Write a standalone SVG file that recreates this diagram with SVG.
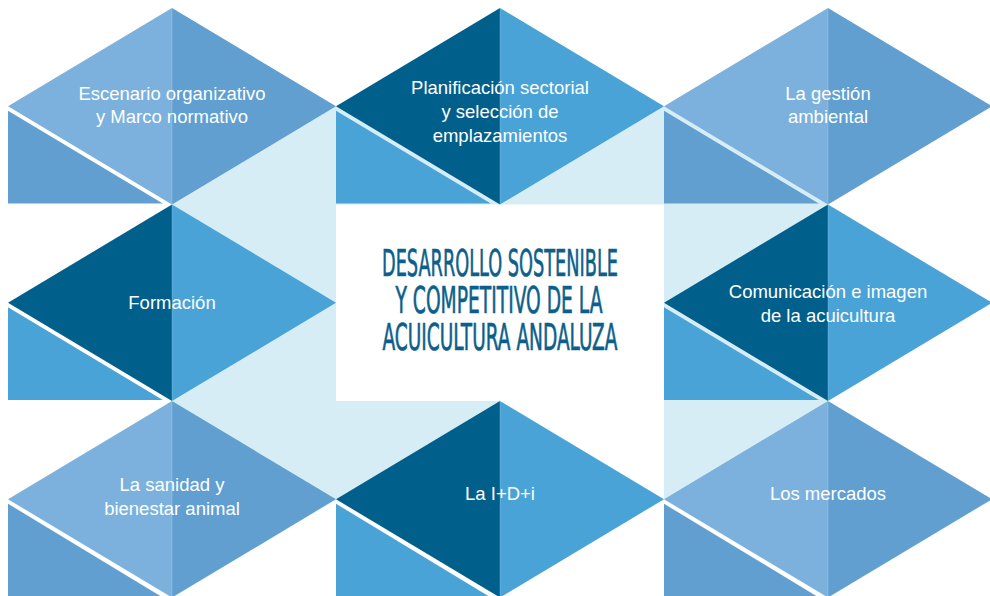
<svg xmlns="http://www.w3.org/2000/svg" width="990" height="596" viewBox="0 0 990 596">
<style>
.bg{fill:#ffffff}
.pale{fill:#d7edf6}
.a1{fill:#7bb1dc}
.a2{fill:#609fd0}
.b1{fill:#015f8b}
.b2{fill:#49a3d6}
.seam{stroke:#ffffff;stroke-opacity:0.25;stroke-width:0.8}
.lbl{font-family:"Liberation Sans",Arial,Helvetica,sans-serif;font-size:18.5px;fill:#ffffff;text-anchor:middle}
.title{font-family:"DejaVu Sans Condensed","DejaVu Sans","Liberation Sans",sans-serif;font-weight:normal;font-size:38px;fill:#0d5f8b;stroke:#0d5f8b;stroke-width:0.7;text-anchor:middle}
</style>
<rect class="bg" x="0" y="0" width="990" height="596"/>
<g id="background">
<rect class="pale" x="172" y="106.25" width="656" height="393"/>
<rect class="bg" x="500" y="401" width="164" height="98.25"/>
</g>
<g id="center">
<rect class="bg" x="336" y="204.5" width="328" height="196.5"/>
<text class="title" x="500" y="276" textLength="236" lengthAdjust="spacingAndGlyphs">DESARROLLO SOSTENIBLE</text>
<text class="title" x="499" y="313" textLength="207" lengthAdjust="spacingAndGlyphs">Y COMPETITIVO DE LA</text>
<text class="title" x="500" y="350" textLength="235" lengthAdjust="spacingAndGlyphs">ACUICULTURA ANDALUZA</text>
</g>
<g id="n-escenario">
<polygon class="a2" points="8,110.75 8,203.5 162.8,203.5"/>
<polygon class="a1" points="8,106.25 172,8 172,204.5"/>
<polygon class="a2" points="172,8 336,106.25 172,204.5"/>
<line class="seam" x1="172" y1="8" x2="172" y2="204.5"/>
<text class="lbl" x="172" y="100">Escenario organizativo</text>
<text class="lbl" x="172" y="123">y Marco normativo</text>
</g>
<g id="n-planificacion">
<polygon class="b2" points="336,110.75 336,203.5 490.8,203.5"/>
<polygon class="b1" points="336,106.25 500,8 500,204.5"/>
<polygon class="b2" points="500,8 664,106.25 500,204.5"/>
<line class="seam" x1="500" y1="8" x2="500" y2="204.5"/>
<text class="lbl" x="500" y="94">Planificación sectorial</text>
<text class="lbl" x="500" y="118">y selección de</text>
<text class="lbl" x="500" y="142">emplazamientos</text>
</g>
<g id="n-gestion">
<polygon class="a2" points="664,110.75 664,203.5 818.8,203.5"/>
<polygon class="a1" points="664,106.25 828,8 828,204.5"/>
<polygon class="a2" points="828,8 992,106.25 828,204.5"/>
<line class="seam" x1="828" y1="8" x2="828" y2="204.5"/>
<text class="lbl" x="828" y="100">La gestión</text>
<text class="lbl" x="828" y="123">ambiental</text>
</g>
<g id="n-formacion">
<polygon class="b2" points="8,307.25 8,400 162.8,400"/>
<polygon class="b1" points="8,302.75 172,204.5 172,401"/>
<polygon class="b2" points="172,204.5 336,302.75 172,401"/>
<line class="seam" x1="172" y1="204.5" x2="172" y2="401"/>
<text class="lbl" x="172" y="309">Formación</text>
</g>
<g id="n-comunicacion">
<polygon class="b2" points="664,307.25 664,400 818.8,400"/>
<polygon class="b1" points="664,302.75 828,204.5 828,401"/>
<polygon class="b2" points="828,204.5 992,302.75 828,401"/>
<line class="seam" x1="828" y1="204.5" x2="828" y2="401"/>
<text class="lbl" x="828" y="298">Comunicación e imagen</text>
<text class="lbl" x="828" y="322">de la acuicultura</text>
</g>
<g id="n-sanidad">
<polygon class="a2" points="8,503.75 8,597.5 162.8,597.5"/>
<polygon class="a1" points="8,499.25 172,401 172,597.5"/>
<polygon class="a2" points="172,401 336,499.25 172,597.5"/>
<line class="seam" x1="172" y1="401" x2="172" y2="597.5"/>
<text class="lbl" x="172" y="491">La sanidad y</text>
<text class="lbl" x="172" y="515">bienestar animal</text>
</g>
<g id="n-idi">
<polygon class="b2" points="336,503.75 336,597.5 490.8,597.5"/>
<polygon class="b1" points="336,499.25 500,401 500,597.5"/>
<polygon class="b2" points="500,401 664,499.25 500,597.5"/>
<line class="seam" x1="500" y1="401" x2="500" y2="597.5"/>
<text class="lbl" x="500" y="499.5">La I+D+i</text>
</g>
<g id="n-mercados">
<polygon class="a2" points="664,503.75 664,597.5 818.8,597.5"/>
<polygon class="a1" points="664,499.25 828,401 828,597.5"/>
<polygon class="a2" points="828,401 992,499.25 828,597.5"/>
<line class="seam" x1="828" y1="401" x2="828" y2="597.5"/>
<text class="lbl" x="828" y="500">Los mercados</text>
</g>
</svg>
